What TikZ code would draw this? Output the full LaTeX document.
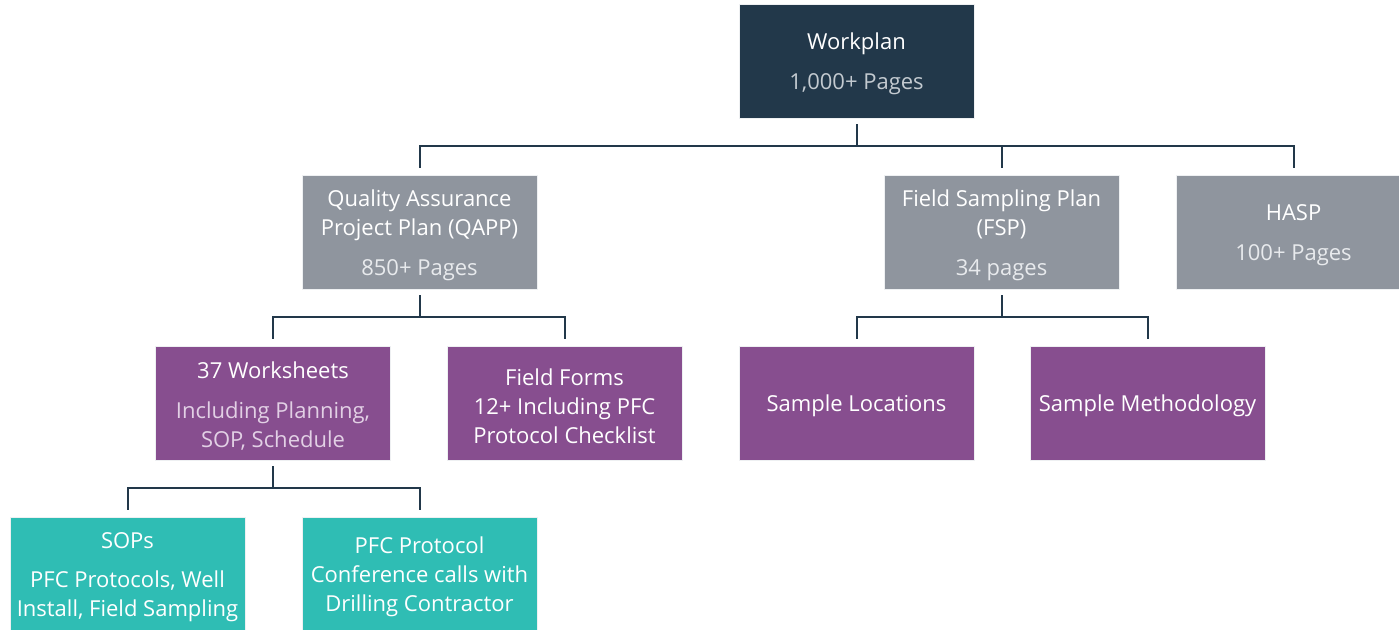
\documentclass[tikz,border=0pt]{standalone}
\usepackage{fontspec}
\setmainfont{Open Sans}
\definecolor{navy}{HTML}{22384A}
\definecolor{grayb}{HTML}{8F959E}
\definecolor{purp}{HTML}{874E8F}
\definecolor{teal}{HTML}{2FBDB4}
\definecolor{subnavy}{HTML}{C3CAD0}
\definecolor{subgray}{HTML}{E8EAED}
\definecolor{subpurp}{HTML}{E2D0E5}
\definecolor{edgec}{HTML}{EEF0F2}
\tikzset{
  box/.style={rectangle, minimum width=176.25pt, minimum height=85.5pt, inner sep=0pt,
    draw=edgec, line width=0.6pt},
  lbl/.style={text=white, align=center, inner sep=0pt, yshift=-2.25pt,
    font=\fontsize{16.5}{21.75}\selectfont},
  navybox/.style={box, fill=navy},
  graybox/.style={box, fill=grayb},
  purpbox/.style={box, fill=purp},
  tealbox/.style={box, fill=teal},
  conn/.style={draw=navy, line width=1.5pt, shorten <=4.5pt, shorten >=5.25pt}
}
\begin{document}
\begin{tikzpicture}[x=0.75pt,y=-0.75pt]
\useasboundingbox (0,0) rectangle (1399,629);
\node[navybox, label={[lbl]center:{Workplan\\[8pt]{\color{subnavy}1,000+ Pages}}}] (wp) at (856.5,61) {};
\node[graybox, label={[lbl]center:{Quality Assurance\\Project Plan (QAPP)\\[8pt]{\color{subgray}850+ Pages}}}] (qapp) at (419.5,232) {};
\node[graybox, label={[lbl]center:{Field Sampling Plan\\(FSP)\\[8pt]{\color{subgray}34 pages}}}] (fsp) at (1001.5,232) {};
\node[graybox, label={[lbl]center:{HASP\\[8pt]{\color{subgray}100+ Pages}}}] (hasp) at (1293.5,232) {};
\node[purpbox, label={[lbl]center:{37 Worksheets\\[8pt]{\color{subpurp}Including Planning,}\\{\color{subpurp}SOP, Schedule}}}] (ws) at (273,403) {};
\node[purpbox, label={[lbl]center:{Field Forms\\12+ Including PFC\\Protocol Checklist}}] (ff) at (564.5,403) {};
\node[purpbox, label={[lbl]center:{Sample Locations}}] (sl) at (856.5,403) {};
\node[purpbox, label={[lbl]center:{Sample Methodology}}] (sm) at (1147.5,403) {};
\node[tealbox, label={[lbl]center:{SOPs\\[8pt]PFC Protocols, Well\\Install, Field Sampling}}] (sop) at (127.5,574) {};
\node[tealbox, label={[lbl]center:{PFC Protocol\\Conference calls with\\Drilling Contractor}}] (pfc) at (419.5,574) {};
\foreach \c in {qapp,fsp,hasp} \draw[conn] (wp.south) -- ++(0,28) -| (\c.north);
\foreach \c in {ws,ff} \draw[conn] (qapp.south) -- ++(0,28) -| (\c.north);
\foreach \c in {sl,sm} \draw[conn] (fsp.south) -- ++(0,28) -| (\c.north);
\foreach \c in {sop,pfc} \draw[conn] (ws.south) -- ++(0,28) -| (\c.north);
\end{tikzpicture}
\end{document}
